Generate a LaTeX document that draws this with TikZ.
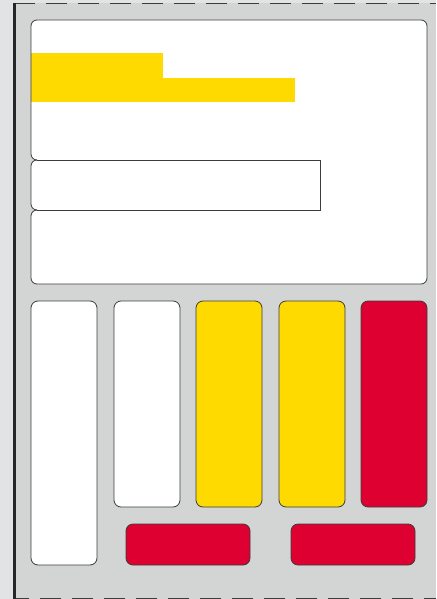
\documentclass[tikz,border=0pt]{standalone}
\usepackage{tikz}
\definecolor{panelgray}{HTML}{D3D4D4}
\definecolor{outergray}{HTML}{E2E3E4}
\definecolor{signalyellow}{HTML}{FFDA00}
\definecolor{signalred}{HTML}{DE0030}
\definecolor{edgegray}{HTML}{3C3C3C}

\begin{document}
\begin{tikzpicture}[x=1pt, y=-1pt,
		rim/.style={draw=edgegray, line width=0.8pt},
		box/.style={rim, rounded corners=7pt},
		frameline/.style={draw=edgegray, line width=1pt, dash pattern=on 21pt off 11pt}]
		\def\r{6pt}
		\useasboundingbox (0,0) rectangle (436,599);
		% ---- background and frame ----
		\fill[outergray] (0,0) rectangle (436,599);
		\fill[panelgray] (14,3) rectangle (436,599);
		\draw[frameline] (14,3.5) -- (436,3.5);
		\draw[frameline, dash phase=6pt] (14,598.5) -- (436,598.5);
		\draw[black!85, line width=2.5pt] (14.7,3) -- (14.7,599);
		% ---- top card ----
		\fill[white, rounded corners=\r] (31,20) rectangle (427,160);
		\fill[white, rounded corners=\r] (31,160) rectangle (320,210);
		\fill[white, rounded corners=\r] (31,210) rectangle (427,284);
		\fill[white] (300,150) rectangle (427,220);
		\fill[signalyellow] (31,53) rectangle (163,78);
		\fill[signalyellow] (31,78) rectangle (295,102);
		\draw[rim, rounded corners=\r] (37,160) -- (31,160) -- (31,20) -- (427,20) -- (427,284) -- (31,284) -- (31,210) -- (37,210);
		\draw[rim, rounded corners=\r] (37,160) -- (31,160) -- (31,210) -- (37,210);
		\draw[rim] (37,160) -- (320,160) -- (320,210) -- (37,210);
		% ---- columns ----
		\draw[box, fill=white] (31,301) rectangle (97,565);
		\foreach \xl/\col in {114/white, 196/signalyellow, 279/signalyellow, 361/signalred}
			\draw[box, fill=\col] (\xl,301) rectangle ++(66,206);
		\foreach \xl in {126, 291}
			\draw[box, fill=signalred] (\xl,524) rectangle ++(124,41);
\end{tikzpicture}
\end{document}
